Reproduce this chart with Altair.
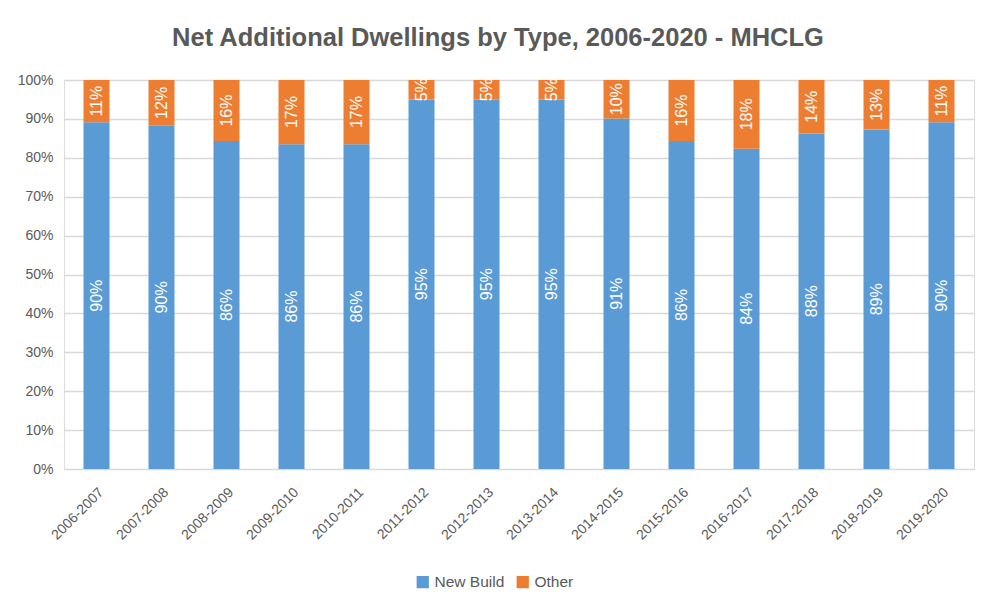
import altair as alt
import pandas as pd

periods = ["2006-2007", "2007-2008", "2008-2009", "2009-2010", "2010-2011",
           "2011-2012", "2012-2013", "2013-2014", "2014-2015", "2015-2016",
           "2016-2017", "2017-2018", "2018-2019", "2019-2020"]
new_build = [90, 90, 86, 86, 86, 95, 95, 95, 91, 86, 84, 88, 89, 90]
other = [11, 12, 16, 17, 17, 5, 5, 5, 10, 16, 18, 14, 13, 11]
series = ["New Build", "Other"]
colors = ["#5B9BD5", "#ED7D31"]
y_ticks = [0, 0.1, 0.2, 0.3, 0.4, 0.5, 0.6, 0.7, 0.8, 0.9, 1.0]

rows = []
for i, p in enumerate(periods):
    rows.append({"period": p, "type": series[0], "value": new_build[i], "ord": 0})
    rows.append({"period": p, "type": series[1], "value": other[i], "ord": 1})
df = pd.DataFrame(rows)

FONT = "Liberation Sans"
GREY = "#595959"

base = alt.Chart(df).transform_stack(
    stack="value", groupby=["period"], as_=["y0", "y1"],
    offset="normalize", sort=[alt.SortField("ord")]
).transform_calculate(
    mid="(datum.y0 + datum.y1) / 2",
    label="datum.value + '%'"
)

x_enc = alt.X(
    "period:N", sort=periods, title=None,
    scale=alt.Scale(paddingInner=0.6, paddingOuter=0.3),
    axis=alt.Axis(labelAngle=-45, domain=False, ticks=False, labelPadding=16,
                  labelFontSize=14, labelColor=GREY, labelFont=FONT, grid=False)
)

y_axis = alt.Axis(format=".0%", values=y_ticks, title=None, domain=False,
                  ticks=False, labelPadding=11, labelFontSize=14,
                  labelOverlap=False, tickCount=11,
                  labelColor=GREY, labelFont=FONT, gridColor="#D9D9D9",
                  gridWidth=1.3)
y_scale = alt.Scale(domain=[0, 1], nice=False)

bars = base.mark_bar().encode(
    x=x_enc,
    y=alt.Y("y0:Q", scale=y_scale, axis=y_axis),
    y2="y1:Q",
    color=alt.Color("type:N", scale=alt.Scale(domain=series, range=colors),
                    sort=series,
                    legend=alt.Legend(orient="none", legendX=351, legendY=494,
                                      direction="horizontal",
                                      title=None, symbolType="square",
                                      symbolSize=150, symbolStrokeWidth=0,
                                      labelFontSize=15.5, labelColor=GREY,
                                      labelFont=FONT,
                                      columnPadding=10, symbolOffset=0)),
    order=alt.Order("ord:Q")
)

text = base.mark_text(angle=270, color="white", fontSize=16, font=FONT,
                      align="center", baseline="middle").encode(
    x=x_enc,
    y=alt.Y("mid:Q", scale=y_scale, axis=y_axis),
    text="label:N"
)

chart = alt.layer(bars, text).properties(
    width=910, height=389,
    padding={"left": 9, "top": 17, "right": 14, "bottom": 10},
    title=alt.TitleParams("Net Additional Dwellings by Type, 2006-2020 - MHCLG",
                          fontSize=25.5, fontWeight="bold", color=GREY, font=FONT,
                          anchor="middle", offset=22, dx=-21)
).configure_view(stroke=None).configure(background="white")

chart.save("out.html", embed_options={"renderer": "svg", "actions": False})
